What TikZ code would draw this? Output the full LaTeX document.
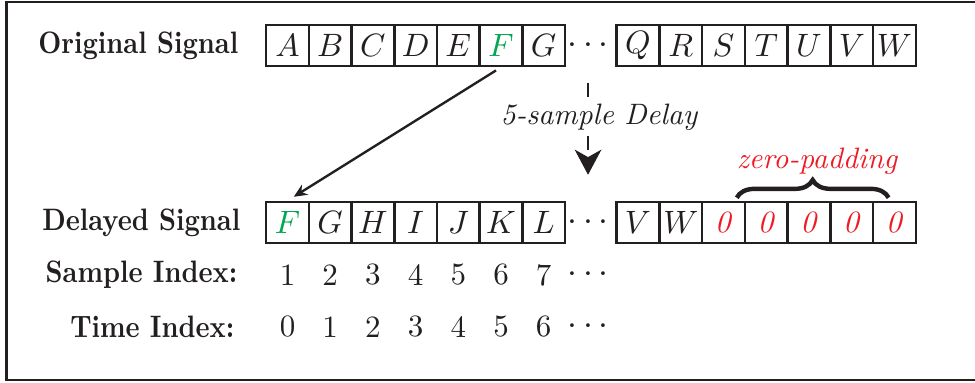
\documentclass[tikz,border=0pt]{standalone}
\usepackage{fontspec}
\usepackage{amssymb}
\usepackage{amsmath}
\usepackage{tikz}
\usetikzlibrary{arrows.meta}
\usetikzlibrary{decorations.pathreplacing}
\definecolor{inkblack}{RGB}{35,31,32}
\definecolor{inkgreen}{RGB}{0,166,81}
\definecolor{inkred}{RGB}{237,28,36}
\newcommand{\rowtext}[1]{\scalebox{0.86}[1]{#1}}

\begin{document}
\begin{tikzpicture}[x=0.0119cm, y=-0.0119cm, color=inkblack,
	cell/.style={draw, line width=0.9pt, minimum width=0.508cm, minimum height=0.488cm, inner sep=0pt, font=\fontsize{10.5}{12}\selectfont},
	gap/.style={minimum height=0.488cm, inner sep=0pt, font=\fontsize{12}{14}\selectfont},
	rowname/.style={anchor=east, inner sep=0pt, font=\fontsize{10.5}{12}\selectfont\bfseries},
	idx/.style={inner sep=0pt, font=\fontsize{10.5}{12}\selectfont}]
	\useasboundingbox (0,0) rectangle (975,383);
	\draw[line width=1pt] (6.5,2) rectangle (990,380);

	\node[rowname] (orig) at (239,45.5) {\rowtext{Original Signal}};
	\node[cell] (A) at (287.5,45.5) {$A$};
	\node[cell] (B) at (330.2,45.5) {$B$};
	\node[cell] (C) at (372.9,45.5) {$C$};
	\node[cell] (D) at (415.6,45.5) {$D$};
	\node[cell] (E) at (458.3,45.5) {$E$};
	\node[cell, text=inkgreen] (F) at (501,45.5) {$F$};
	\node[cell] (G) at (543.7,45.5) {$G$};
	\node[gap] (dots1) at (591,45.5) {$\cdots$};
	\node[cell] (Q) at (638,45.5) {$Q$};
	\node[cell] (R) at (680.8,45.5) {$R$};
	\node[cell] (S) at (723.5,45.5) {$S$};
	\node[cell] (T) at (766.3,45.5) {$T$};
	\node[cell] (U) at (809,45.5) {$U$};
	\node[cell] (V) at (851.8,45.5) {$V$};
	\node[cell] (W) at (894.5,45.5) {$W$};

	\node[rowname] (dly) at (241,222.5) {\rowtext{Delayed Signal}};
	\node[cell, text=inkgreen] (dF) at (287.5,222.5) {$F$};
	\node[cell] (dG) at (330.2,222.5) {$G$};
	\node[cell] (dH) at (372.9,222.5) {$H$};
	\node[cell] (dI) at (415.6,222.5) {$I$};
	\node[cell] (dJ) at (458.3,222.5) {$J$};
	\node[cell] (dK) at (501,222.5) {$K$};
	\node[cell] (dL) at (543.7,222.5) {$L$};
	\node[gap] (dots2) at (591,222.5) {$\cdots$};
	\node[cell] (dV) at (638,222.5) {$V$};
	\node[cell] (dW) at (680.8,222.5) {$W$};
	\node[cell, text=inkred] (z1) at (723.5,222.5) {\textit{0}};
	\node[cell, text=inkred] (z2) at (766.3,222.5) {\textit{0}};
	\node[cell, text=inkred] (z3) at (809,222.5) {\textit{0}};
	\node[cell, text=inkred] (z4) at (851.8,222.5) {\textit{0}};
	\node[cell, text=inkred] (z5) at (894.5,222.5) {\textit{0}};

	\node[rowname] (sidx) at (238,275) {\rowtext{Sample Index:}};
	\node[idx] (s1) at (287.5,275) {1};
	\node[idx] (s2) at (330.2,275) {2};
	\node[idx] (s3) at (372.9,275) {3};
	\node[idx] (s4) at (415.6,275) {4};
	\node[idx] (s5) at (458.3,275) {5};
	\node[idx] (s6) at (501,275) {6};
	\node[idx] (s7) at (543.7,275) {7};
	\node[gap] (dots3) at (591,275) {$\cdots$};

	\node[rowname] (tidx) at (235,327) {\rowtext{Time Index:}};
	\node[idx] (t0) at (287.5,327) {0};
	\node[idx] (t1) at (330.2,327) {1};
	\node[idx] (t2) at (372.9,327) {2};
	\node[idx] (t3) at (415.6,327) {3};
	\node[idx] (t4) at (458.3,327) {4};
	\node[idx] (t5) at (501,327) {5};
	\node[idx] (t6) at (543.7,327) {6};
	\node[gap] (dots4) at (591,327) {$\cdots$};

	\draw[-{Stealth[length=4.5pt, width=4pt]}, line width=0.8pt, shorten <=2pt, shorten >=2.5pt] (F.south) -- (dF.north);
	\draw[-{Stealth[length=8.5pt, width=9pt, inset=2.5pt]}, line width=0.9pt, dash pattern=on 5pt off 4pt, shorten <=5.4pt, shorten >=9pt] ([xshift=-1pt]dots1.south) -- ([xshift=-1pt]dots2.north);
	\node[fill=white, inner sep=1.5pt, font=\itshape] (delay) at (599,117) {5-sample Delay};

	\draw[decorate, decoration={brace, amplitude=6pt, raise=1pt}, line width=1.5pt] ([xshift=4.5pt]z1.north) -- ([xshift=-2pt]z5.north);
	\node[text=inkred, font=\itshape] (pad) at (817,161) {zero-padding};
\end{tikzpicture}
\end{document}
